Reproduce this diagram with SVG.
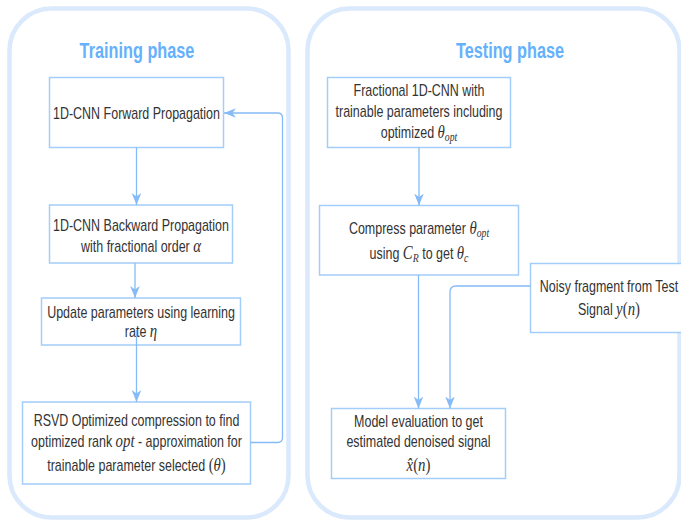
<svg xmlns="http://www.w3.org/2000/svg" width="681" height="523" viewBox="0 0 681 523">
<style>
.cont{fill:none;stroke:#dae9fb;stroke-width:4.5}
.title{font-family:"Liberation Sans",Arial,sans-serif;font-weight:bold;font-size:22px;fill:#66b1fc;text-anchor:middle}
.box{fill:#ffffff;stroke:#a3cdfa;stroke-width:1.5}
.t{font-family:"Liberation Sans",Arial,sans-serif;font-size:16px;fill:#333333;text-anchor:middle}
.m{font-family:"Liberation Serif","DejaVu Serif",serif;font-style:italic;font-size:19px}
.u{font-family:"Liberation Serif","DejaVu Serif",serif;font-style:normal;font-size:19px}
.s{font-family:"Liberation Serif","DejaVu Serif",serif;font-style:italic;font-size:12.5px}
.e{fill:none;stroke:#85bbf6;stroke-width:1.3}
</style>
<defs>
<marker id="arr" markerUnits="userSpaceOnUse" markerWidth="12" markerHeight="12" viewBox="0 0 10 10" refX="10" refY="5" orient="auto">
<path d="M0,1 L10,5 L0,9 L3,5 z" fill="#85bbf6"/>
</marker>
</defs>

<g id="training-container">
<rect class="cont" x="9.5" y="8.5" width="279" height="509" rx="42" ry="42"/>
<text class="title" transform="matrix(0.74,0,0,1,137,58)" x="0" y="0">Training phase</text>
</g>
<g id="testing-container">
<rect class="cont" x="307.5" y="8.5" width="372" height="509" rx="42" ry="42"/>
<text class="title" transform="matrix(0.74,0,0,1,510,58)" x="0" y="0">Testing phase</text>
</g>

<g id="forward">
<rect class="box" x="49.5" y="77.5" width="174" height="70"/>
<text class="t" transform="matrix(0.78,0,0,1,136.5,118.5)" x="0" y="0">1D-CNN Forward Propagation</text>
</g>

<g id="backward">
<rect class="box" x="49.5" y="205" width="183" height="58"/>
<text class="t" transform="matrix(0.78,0,0,1,141,230.5)" x="0" y="0">1D-CNN Backward Propagation</text>
<text class="t" transform="matrix(0.78,0,0,1,141,252)" x="0" y="0">with fractional order <tspan class="m">α</tspan></text>
</g>

<g id="update">
<rect class="box" x="41.5" y="298" width="199" height="47"/>
<text class="t" transform="matrix(0.78,0,0,1,141,318)" x="0" y="0">Update parameters using learning</text>
<text class="t" transform="matrix(0.78,0,0,1,141,337)" x="0" y="0">rate <tspan class="m">η</tspan></text>
</g>

<g id="rsvd">
<rect class="box" x="22.5" y="402" width="228" height="82"/>
<text class="t" transform="matrix(0.78,0,0,1,136.5,425.5)" x="0" y="0">RSVD Optimized compression to find</text>
<text class="t" transform="matrix(0.78,0,0,1,136.5,447)" x="0" y="0">optimized rank <tspan class="m">opt</tspan> - approximation for</text>
<text class="t" transform="matrix(0.78,0,0,1,136.5,470.5)" x="0" y="0">trainable parameter selected <tspan class="u">(</tspan><tspan class="m">θ</tspan><tspan class="u">)</tspan></text>
</g>

<g id="fractional">
<rect class="box" x="327.5" y="77.5" width="183" height="70"/>
<text class="t" transform="matrix(0.78,0,0,1,419,95.5)" x="0" y="0">Fractional 1D-CNN with</text>
<text class="t" transform="matrix(0.78,0,0,1,419,117)" x="0" y="0">trainable parameters including</text>
<text class="t" transform="matrix(0.78,0,0,1,419,137.5)" x="0" y="0">optimized <tspan class="m">θ</tspan><tspan class="s" dy="3">opt</tspan></text>
</g>

<g id="compress">
<rect class="box" x="319.5" y="205.5" width="199" height="69.5"/>
<text class="t" transform="matrix(0.78,0,0,1,419,233.5)" x="0" y="0">Compress parameter <tspan class="m">θ</tspan><tspan class="s" dy="3">opt</tspan></text>
<text class="t" transform="matrix(0.78,0,0,1,419,258.5)" x="0" y="0">using <tspan class="m">C</tspan><tspan class="s" dy="3">R</tspan><tspan dy="-3"> to get </tspan><tspan class="m">θ</tspan><tspan class="s" dy="3">c</tspan></text>
</g>

<g id="noisy">
<rect class="box" x="530.5" y="263.5" width="158" height="69"/>
<text class="t" transform="matrix(0.78,0,0,1,609,292)" x="0" y="0">Noisy fragment from Test</text>
<text class="t" transform="matrix(0.78,0,0,1,609,314.5)" x="0" y="0">Signal <tspan class="m">y</tspan><tspan class="u">(</tspan><tspan class="m">n</tspan><tspan class="u">)</tspan></text>
</g>

<g id="model">
<rect class="box" x="331.5" y="408.5" width="174" height="70"/>
<text class="t" transform="matrix(0.78,0,0,1,418.5,427)" x="0" y="0">Model evaluation to get</text>
<text class="t" transform="matrix(0.78,0,0,1,418.5,447)" x="0" y="0">estimated denoised signal</text>
<text class="t" transform="matrix(0.78,0,0,1,418.5,470.5)" x="0" y="0"><tspan class="m">x&#770;</tspan><tspan class="u">(</tspan><tspan class="m">n</tspan><tspan class="u">)</tspan></text>
</g>

<g id="connectors">
<path class="e" d="M136.5,147.5 V205" marker-end="url(#arr)"/>
<path class="e" d="M135,263 V298" marker-end="url(#arr)"/>
<path class="e" d="M136.5,330 V402" marker-end="url(#arr)"/>
<path class="e" d="M250.5,442.5 H277.5 Q282.5,442.5 282.5,437.5 V118 Q282.5,113 277.5,113 H224" marker-end="url(#arr)"/>
<path class="e" d="M419,147.5 V205.5" marker-end="url(#arr)"/>
<path class="e" d="M418.5,275 V408.5" marker-end="url(#arr)"/>
<path class="e" d="M530.5,286 H456 Q450,286 450,292 V408.5" marker-end="url(#arr)"/>
</g>
</svg>
